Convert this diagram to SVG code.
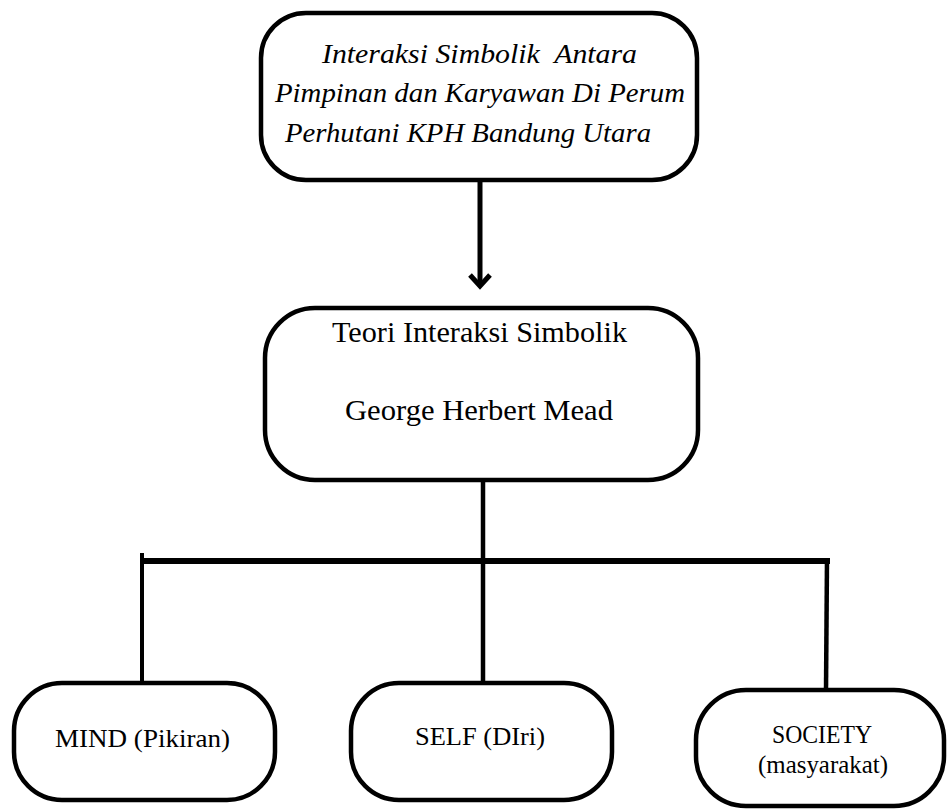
<svg xmlns="http://www.w3.org/2000/svg" width="948" height="810" viewBox="0 0 948 810">
<style>
.box{fill:#fff;stroke:#000;stroke-width:4.5}
text{font-family:'Liberation Serif','Times New Roman',Times,serif;fill:#000}
.it{font-style:italic;font-size:27px}
.md{font-size:29px}
.sm{font-size:25px}
.ln{stroke:#000;fill:none;stroke-linecap:butt}
</style>
<rect width="948" height="810" fill="#fff"/>
<g id="connectors">
<line class="ln" x1="480" y1="180" x2="480" y2="286" stroke-width="5"/>
<polyline class="ln" points="470,275 480,286 490,275" stroke-width="5" stroke-linejoin="miter"/>
<line class="ln" x1="483" y1="478" x2="483" y2="684" stroke-width="4.5"/>
<line class="ln" x1="140" y1="561" x2="830" y2="561" stroke-width="6"/>
<line class="ln" x1="142" y1="553" x2="142" y2="684" stroke-width="4"/>
<line class="ln" x1="827" y1="558" x2="826" y2="690" stroke-width="4.5"/>
</g>
<g id="node-top" font-family="Liberation Serif, serif">
<rect class="box" x="261" y="13" width="436" height="167" rx="45" ry="45"/>
<text class="it" x="322" y="63" textLength="315" lengthAdjust="spacingAndGlyphs" xml:space="preserve">Interaksi Simbolik  Antara</text>
<text class="it" x="275" y="102" textLength="410" lengthAdjust="spacingAndGlyphs">Pimpinan dan Karyawan Di Perum</text>
<text class="it" x="285" y="142" textLength="366" lengthAdjust="spacingAndGlyphs">Perhutani KPH Bandung Utara</text>
</g>
<g id="node-teori" font-family="Liberation Serif, serif">
<rect class="box" x="265" y="308" width="433" height="172" rx="50" ry="50"/>
<text class="md" x="332" y="342" textLength="295" lengthAdjust="spacingAndGlyphs">Teori Interaksi Simbolik</text>
<text class="md" x="345" y="420" textLength="268" lengthAdjust="spacingAndGlyphs">George Herbert Mead</text>
</g>
<g id="node-mind" font-family="Liberation Serif, serif">
<rect class="box" x="14" y="683" width="261" height="117" rx="48" ry="48"/>
<text class="sm" x="55" y="747" textLength="175" lengthAdjust="spacingAndGlyphs">MIND (Pikiran)</text>
</g>
<g id="node-self" font-family="Liberation Serif, serif">
<rect class="box" x="351" y="683" width="261" height="117" rx="48" ry="48"/>
<text class="sm" x="415" y="745" textLength="130" lengthAdjust="spacingAndGlyphs">SELF (DIri)</text>
</g>
<g id="node-society" font-family="Liberation Serif, serif">
<rect class="box" x="696" y="690" width="248" height="116" rx="50" ry="50"/>
<text class="sm" x="772" y="743" textLength="100" lengthAdjust="spacingAndGlyphs">SOCIETY</text>
<text class="sm" x="758" y="773" textLength="130" lengthAdjust="spacingAndGlyphs">(masyarakat)</text>
</g>
</svg>
